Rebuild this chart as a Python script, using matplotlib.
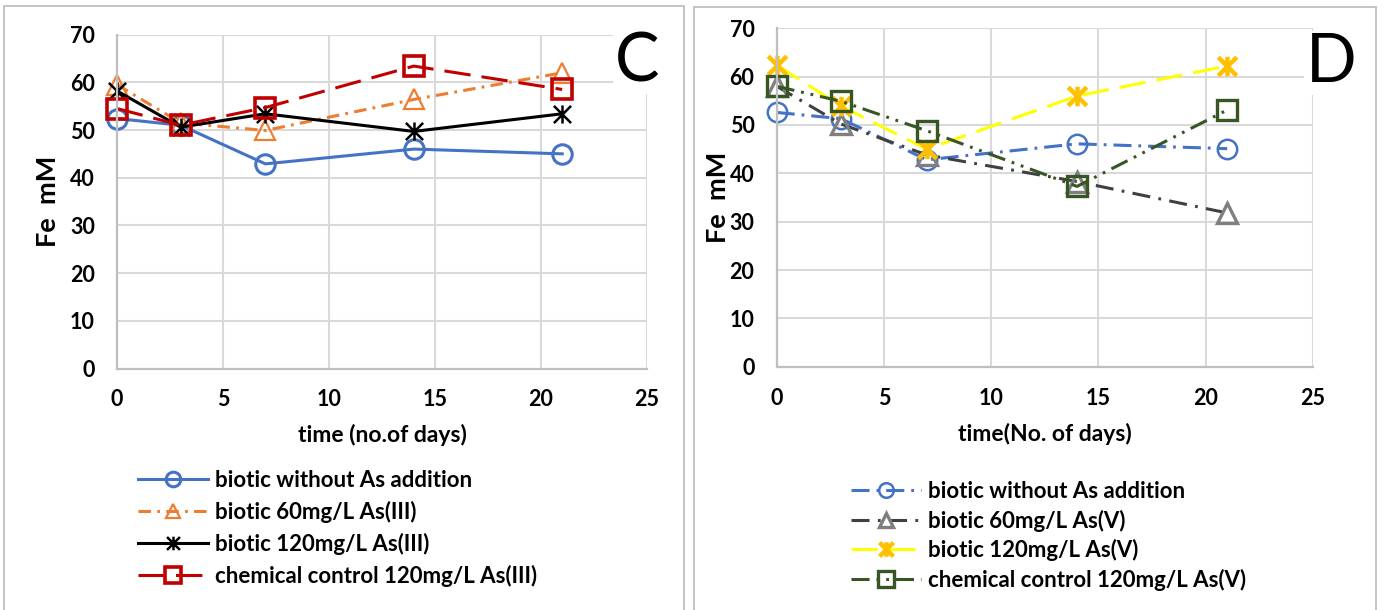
import matplotlib
matplotlib.use("Agg")
import matplotlib.pyplot as plt
from matplotlib.path import Path
from matplotlib.patches import Rectangle

plt.rcParams['font.family'] = ['Lato', 'DejaVu Sans']
plt.rcParams['lines.scale_dashes'] = False

W, H = 1387, 610

days = [0, 3, 7, 14, 21]

# Panel C: As(III) experiments
c_no_as = [52.4, 51.0, 42.9, 46.0, 45.0]
c_as3_60 = [59.5, 51.5, 49.9, 56.4, 62.0]
c_as3_120 = [58.2, 50.6, 53.4, 49.7, 53.4]
c_chem_as3 = [54.5, 51.0, 54.7, 63.4, 58.5]
c_labels = ["biotic without As addition", "biotic 60mg/L As(III)",
            "biotic 120mg/L As(III)", "chemical control 120mg/L As(III)"]

# Panel D: As(V) experiments
d_no_as = [52.6, 51.3, 42.8, 46.1, 45.1]
d_as5_60 = [58.0, 50.2, 43.8, 38.3, 31.8]
d_as5_120 = [62.4, 53.9, 45.0, 56.0, 62.2]
d_chem_as5 = [58.0, 54.9, 48.8, 37.3, 53.1]
d_labels = ["biotic without As addition", "biotic 60mg/L As(V)",
            "biotic 120mg/L As(V)", "chemical control 120mg/L As(V)"]

x_ticks = [0, 5, 10, 15, 20, 25]
y_ticks = [0, 10, 20, 30, 40, 50, 60, 70]

# star marker: an X with a vertical stroke
star = Path([(-1, -1), (1, 1), (-1, 1), (1, -1), (0, -1.05), (0, 1.05)],
            [Path.MOVETO, Path.LINETO, Path.MOVETO, Path.LINETO,
             Path.MOVETO, Path.LINETO])

fig = plt.figure(figsize=(W / 100, H / 100), dpi=100)

# panel frames
for x0, x1, y0 in [(4.3, 684.3, 6.0), (694.3, 1375.5, 6.5)]:
    fig.patches.append(Rectangle((x0 / W, -0.05), (x1 - x0) / W, 1.05 - y0 / H,
                                 transform=fig.transFigure, fill=False,
                                 edgecolor='#bfbfbf', lw=1.3))


def make_axes(left, right, top, bottom):
    ax = fig.add_axes([left / W, 1 - bottom / H, (right - left) / W, (bottom - top) / H])
    ax.set_xlim(0, 25)
    ax.set_ylim(0, 70)
    ax.set_xticks(x_ticks)
    ax.set_yticks(y_ticks)
    ax.grid(True, color='#d9d9d9', lw=1.5)
    ax.set_axisbelow(True)
    for s in ['top', 'right']:
        ax.spines[s].set_visible(False)
    for s in ['left', 'bottom']:
        ax.spines[s].set_color('#bfbfbf')
        ax.spines[s].set_linewidth(1.6)
    ax.tick_params(axis='y', length=0, pad=16, labelsize=15.5)
    ax.tick_params(axis='x', length=0, pad=15, labelsize=15.5)
    for lab in ax.get_xticklabels() + ax.get_yticklabels():
        lab.set_fontweight('bold')
    return ax


def plot_series(ax, y, color, ls, marker, ms, mec, mew=2.2, lw=2.2):
    ln, = ax.plot(days, y, color=color, linestyle=ls, lw=lw, marker=marker,
                  markersize=ms, markerfacecolor='none', markeredgecolor=mec,
                  markeredgewidth=mew, clip_on=False)
    return ln


# ---------- Panel C ----------
axc = make_axes(117, 647, 34.6, 368.5)
hc = [
    plot_series(axc, c_no_as, '#4472C4', '-', 'o', 14, '#4472C4'),
    plot_series(axc, c_as3_60, '#ED7D31', (0, (9, 4.5, 2, 4.5)), '^', 14, '#ED7D31', mew=1.6),
    plot_series(axc, c_as3_120, '#000000', '-', star, 13, '#000000', mew=1.8),
    plot_series(axc, c_chem_as3, '#C00000', (0, (19, 8)), 's', 15, '#C00000', mew=2.6),
]
axc.set_xlabel("time (no.of days)", fontsize=16.5, fontweight='bold', labelpad=10)
axc.set_ylabel("Fe  mM", fontsize=19.5, fontweight='bold', labelpad=7)

# ---------- Panel D ----------
axd = make_axes(776.7, 1313, 28.3, 366.7)
hd = [
    plot_series(axd, d_no_as, '#4472C4', (0, (13, 5, 2, 5)), 'o', 14, '#4472C4', mew=1.8),
    plot_series(axd, d_as5_60, '#404040', (0, (13, 6, 2, 6)), '^', 14, '#7F7F7F', mew=2.4),
    plot_series(axd, d_as5_120, '#FFFF00', (0, (19, 8)), star, 14, '#FFC000', mew=3.2),
    plot_series(axd, d_chem_as5, '#375623', (0, (13, 5, 2, 5, 2, 5)), 's', 15, '#375623', mew=2.4),
]
axd.set_xlabel("time(No. of days)", fontsize=16.5, fontweight='bold', labelpad=10)
axd.set_ylabel("Fe  mM", fontsize=19.5, fontweight='bold', labelpad=0)

# panel letters
fig.text(637 / W, 1 - 62 / H, "C", fontsize=48, ha='center', va='center',
         bbox=dict(facecolor='white', edgecolor='none', pad=1))
fig.text(1331 / W, 1 - 63 / H, "D", fontsize=48, ha='center', va='center',
         bbox=dict(facecolor='white', edgecolor='none', pad=1))

# legends below each panel
fig.legend(hc, c_labels, loc='upper left', bbox_to_anchor=(138 / W, 1 - 470 / H),
           frameon=False, prop=dict(weight='bold', size=16), handlelength=3.15,
           handletextpad=0.3, labelspacing=0.44, borderpad=0, borderaxespad=0,
           markerscale=0.75)
fig.legend(hd, d_labels, loc='upper left', bbox_to_anchor=(851 / W, 1 - 481 / H),
           frameon=False, prop=dict(weight='bold', size=16), handlelength=3.15,
           handletextpad=0.3, labelspacing=0.34, borderpad=0, borderaxespad=0,
           markerscale=0.75)

fig.savefig("out.png", dpi=100)
